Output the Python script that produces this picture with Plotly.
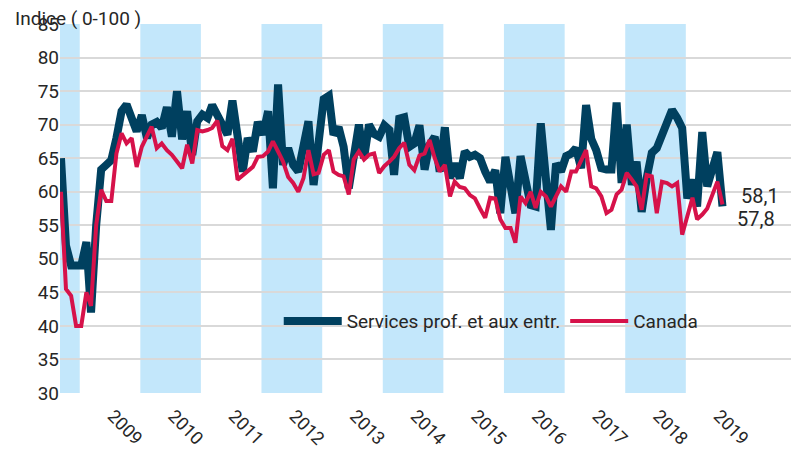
import pandas as pd
import plotly.graph_objects as go

# Monthly index values, Sep 2008 -> Aug 2019
start_month = "2008-09-01"
services = [
    65, 52, 49, 49, 49, 52.5, 42, 55, 63.3, 64, 64.7, 68, 72, 73, 70.5, 69,
    71.4, 68, 70, 70.4, 69.5, 72.6, 68.2, 75, 67.8, 72, 65.5, 70.5, 71.5, 71,
    72.9, 71.6, 70, 68.5, 73.6, 68, 63, 68, 66, 70.4, 68.5, 72, 60.5, 76, 64,
    66.5, 64, 63, 67.2, 70.5, 61, 67, 73.8, 74.3, 68.5, 69.6, 66.7, 60.5, 66,
    70, 65, 70, 68.6, 68.2, 69.9, 69.2, 62.5, 70.9, 71.1, 66.7, 67.2, 69.9,
    63.3, 67, 68.2, 63, 69.6, 62, 64.2, 62, 66, 65.2, 65.5, 65, 63, 61.5, 63.2,
    56.8, 65.2, 60.5, 56.8, 65.3, 62, 58, 57.8, 70.2, 62, 54.3, 64.2, 63, 65.3,
    65.7, 66.5, 63.5, 72.9, 67.9, 66.2, 63.5, 63.3, 63.3, 73.3, 61.3, 70, 61,
    64.5, 57, 62, 65.8, 66.5, 68.2, 70, 72.2, 71, 69.5, 59, 61.8, 57.8, 68.9,
    60.8, 63, 65.9, 57.8,
]
canada = [
    60, 45.5, 44.5, 40, 40, 45, 43, 55, 60.3, 58.6, 58.6, 65.7, 68.7, 67.2, 68,
    63.7, 66.7, 68.2, 69.7, 66.5, 67.2, 66.2, 65.5, 64.5, 63.5, 67, 64.2, 69.2,
    69, 69.2, 69.5, 70.6, 66.8, 66.2, 67.9, 61.8, 62.5, 63.2, 63.7, 65.2, 65.3,
    66, 67.5, 66, 64.5, 62.2, 61.3, 60, 62, 66.2, 62.6, 62.8, 65.5, 66.2, 63,
    62.5, 62.3, 59.6, 64.8, 66, 64.8, 65.5, 65.7, 62.8, 63.8, 64.5, 65.2, 66.5,
    67.3, 64, 63.2, 65.4, 65.7, 67.7, 65, 63, 64, 59.3, 61.5, 60.7, 60.5, 59.5,
    59, 57.5, 56.1, 59.1, 59, 55.9, 54.6, 54.6, 52.4, 59.3, 58.3, 60, 57.6, 60,
    59.3, 57.8, 59.5, 60.8, 60, 63, 63, 64.5, 66.2, 60.8, 60.5, 59.3, 56.8,
    57.3, 59.6, 60.3, 62.8, 61.8, 60.8, 57.3, 62.5, 62.3, 56.8, 61.5, 61.3,
    60.8, 61.3, 53.6, 56.1, 59.1, 55.9, 56.6, 57.5, 59.5, 61.5, 58.1,
]
tick_years = list(range(2009, 2020))
shaded_years = [2010, 2012, 2014, 2016, 2018]
series_names = ["Services prof. et aux entr.", "Canada"]
end_labels = ["58,1", "57,8"]

dates = pd.date_range(start_month, periods=len(services), freq="MS")

NAVY = "#00405F"
RED = "#D6124A"
BAND = "#C3E7FB"
GRID = "#D9D9D9"
TXT = "#262626"
FONT = "Roboto"

x_start = pd.Timestamp("2008-08-26")
x_end = pd.Timestamp("2020-11-04")

fig = go.Figure()
fig.add_trace(go.Scatter(x=dates, y=services, mode="lines", name=series_names[0],
                         line=dict(color=NAVY, width=8)))
fig.add_trace(go.Scatter(x=dates, y=canada, mode="lines", name=series_names[1],
                         line=dict(color=RED, width=4)))

shapes = [dict(type="rect", xref="x", yref="paper", x0=x_start, x1="2008-12-23",
               y0=0, y1=1, fillcolor=BAND, line_width=0, layer="between")]
for yr in shaded_years:
    shapes.append(dict(type="rect", xref="x", yref="paper",
                       x0=f"{yr-1}-12-23", x1=f"{yr}-12-23", y0=0, y1=1,
                       fillcolor=BAND, line_width=0, layer="between"))

annotations = [
    dict(text="Indice ( 0-100 )", xref="paper", yref="paper", x=-0.064, y=1.016,
         xanchor="left", yanchor="middle", showarrow=False,
         font=dict(family=FONT, size=19, color=TXT)),
    dict(text=end_labels[0], xref="x", yref="y", x=dates[-1], y=59.4,
         xanchor="left", yanchor="middle", xshift=17, showarrow=False,
         font=dict(family=FONT, size=20, color=TXT)),
    dict(text=end_labels[1], xref="x", yref="y", x=dates[-1], y=55.9,
         xanchor="left", yanchor="middle", xshift=13, showarrow=False,
         font=dict(family=FONT, size=20, color=TXT)),
]

# page body has an 8px margin: figure sits at (8, 8) in the window
fig.update_layout(
    width=791, height=444,
    margin=dict(l=52, r=0, t=16, b=59, autoexpand=False),
    paper_bgcolor="white", plot_bgcolor="white",
    font=dict(family=FONT, color=TXT),
    shapes=shapes, annotations=annotations,
    showlegend=True,
    legend=dict(orientation="h", x=0.296, y=0.195, xanchor="left", yanchor="middle",
                bgcolor="rgba(0,0,0,0)", font=dict(family=FONT, size=19, color=TXT),
                itemwidth=58, tracegroupgap=0),
)
fig.update_xaxes(
    range=[x_start, x_end], showgrid=False, zeroline=False, showline=False,
    automargin=False,
    tickvals=[pd.Timestamp(f"{y}-07-10") for y in tick_years],
    ticktext=[str(y) for y in tick_years], tickangle=45, ticklabelstandoff=8,
    tickfont=dict(family=FONT, size=18, color=TXT), ticks="",
)
fig.update_yaxes(
    range=[30, 85], dtick=5, showgrid=True, gridcolor=GRID, gridwidth=2,
    zeroline=False, showline=False, ticks="", automargin=False,
    tickfont=dict(family=FONT, size=19, color=TXT),
)

fig.write_html("out.html")
